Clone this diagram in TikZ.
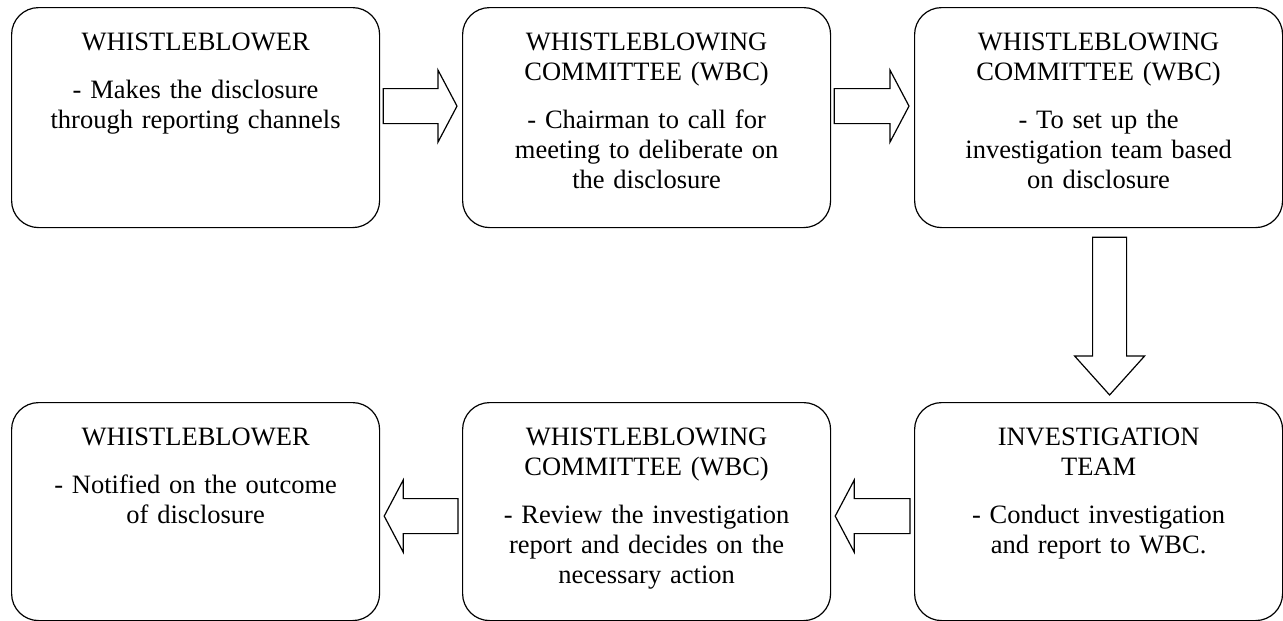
\documentclass[tikz,border=0pt]{standalone}
\usepackage{fontspec}
\setmainfont{Liberation Serif}
\usepackage{tikz}
\usetikzlibrary{calc}
\usepackage{xcolor}

\tikzset{
  stagebox/.style={draw=black, line width=1.2pt, rounded corners=27pt, anchor=north west,
    text width=368pt, align=center, inner sep=0pt, text height=43pt, text depth=177pt,
    font=\fontsize{26.5pt}{30pt}\selectfont},
  blockarr/.style={draw=black, fill=white, line width=1.2pt, line join=miter}
}

\begin{document}
\begin{tikzpicture}[x=1pt, y=-1pt]
    \useasboundingbox (0,0) rectangle (1283,621);
    % top row
    \node[stagebox] (wb1) at (11,7)
          {WHISTLEBLOWER\\[18pt]- Makes the disclosure\\through reporting channels};
    \node[stagebox] (wbc1) at (462,7)
          {WHISTLEBLOWING\\COMMITTEE (WBC)\\[18pt]- Chairman to call for\\meeting to deliberate on\\the disclosure};
    \node[stagebox] (wbc2) at (914,7)
          {WHISTLEBLOWING\\COMMITTEE (WBC)\\[18pt]- To set up the\\investigation team based\\on disclosure};
    % bottom row
    \node[stagebox, text depth=175pt] (team) at (914,402)
          {INVESTIGATION\\TEAM\\[18pt]- Conduct investigation\\and report to WBC.};
    \node[stagebox, text depth=175pt] (wbc3) at (462,402)
          {WHISTLEBLOWING\\COMMITTEE (WBC)\\[18pt]- Review the investigation\\report and decides on the\\necessary action};
    \node[stagebox, text depth=175pt] (wb2) at (11,402)
          {WHISTLEBLOWER\\[18pt]- Notified on the outcome\\of disclosure};
    % block arrows
    \foreach \a/\b in {wb1/wbc1, wbc1/wbc2}
      \draw[blockarr] let \p1=(\a.east), \p2=(\b.west) in
        (\x1+3pt,\y1+29pt) -- (\x2-24pt,\y1+29pt) -- (\x2-24pt,\y1+47.5pt)
        -- (\x2-5pt,\y1+11.5pt) -- (\x2-24pt,\y1-24.5pt) -- (\x2-24pt,\y1-6pt)
        -- (\x1+3pt,\y1-6pt) -- cycle;
    \draw[blockarr] let \p1=(wbc2.south), \p2=(team.north) in
      (\x1-6pt,\y1-9pt) -- (\x1-6pt,\y2+46pt) -- (\x1-24pt,\y2+46pt)
      -- (\x1+11pt,\y2+7pt) -- (\x1+46pt,\y2+46pt) -- (\x1+28pt,\y2+46pt)
      -- (\x1+28pt,\y1-9pt) -- cycle;
    \foreach \a/\b in {team/wbc3, wbc3/wb2}
      \draw[blockarr] let \p1=(\a.west), \p2=(\b.east) in
        (\x1-4pt,\y1+13pt) -- (\x2+23pt,\y1+13pt) -- (\x2+23pt,\y1+31.5pt)
        -- (\x2+4pt,\y1-4.5pt) -- (\x2+23pt,\y1-40.5pt) -- (\x2+23pt,\y1-22pt)
        -- (\x1-4pt,\y1-22pt) -- cycle;
\end{tikzpicture}
\end{document}
